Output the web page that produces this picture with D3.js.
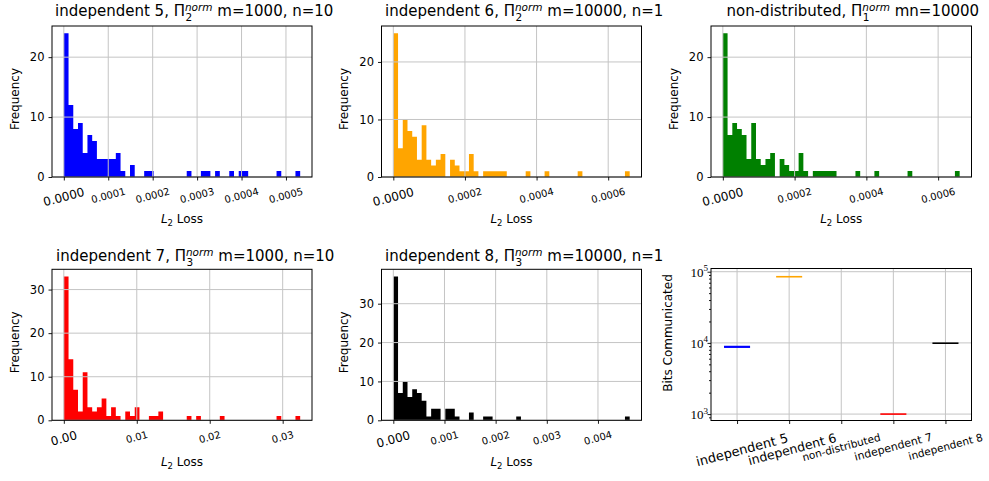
<!DOCTYPE html>
<html>
<head>
<meta charset="utf-8">
<script src="https://cdn.jsdelivr.net/npm/d3@7"></script>
<style>
  body { margin: 0; background: #fff; }
  svg { font-family: "DejaVu Sans", sans-serif; }
</style>
</head>
<body>
<svg id="fig" width="989" height="481"></svg>
<script>
// histogram counts, 50 equal bins from 0 to the max loss of each run
const binCount = 50;
const countsInd5 = [24,12,8,9,4,7,6,3,3,3, 3,4,1,0,2,0,0,1,1,0, 0,0,0,0,0,0,1,0,0,1, 1,0,1,0,0,1,0,1,1,0, 0,0,0,0,0,1,0,0,0,1];
const countsInd6 = [25,5,10,8,7,3,9,3,2,3, 4,0,3,2,1,1,4,1,0,1, 1,1,1,1,0,0,0,0,1,0, 0,0,1,0,0,0,0,0,0,1, 0,0,0,0,0,0,0,0,0,1];
const countsNonDist = [24,7,9,8,7,3,9,3,2,3, 4,0,3,2,1,1,4,1,0,1, 1,1,1,1,0,0,0,0,1,0, 0,0,1,0,0,0,0,0,0,1, 0,0,0,0,0,0,0,0,0,1];
const countsInd7 = [33,14,7,2,11,3,2,3,5,1, 3,1,0,2,1,3,0,0,1,1, 2,0,0,0,0,0,1,0,1,0, 0,0,0,1,0,0,0,0,0,0, 0,0,0,0,0,1,0,0,0,1];
const countsInd8 = [37,7,10,6,8,7,5,1,3,3, 0,3,3,1,0,0,2,0,0,1, 1,0,0,0,0,0,1,0,0,0, 0,0,0,0,0,0,0,0,0,0, 0,0,0,0,0,0,0,0,0,1];
const maxLoss = [0.000532, 0.00066, 0.00066, 0.0324, 0.00462];

const ticksInd5 = [0, 0.0001, 0.0002, 0.0003, 0.0004, 0.0005];
const ticksInd6 = [0, 0.0002, 0.0004, 0.0006];
const ticksInd7 = [0, 0.01, 0.02, 0.03];
const ticksInd8 = [0, 0.001, 0.002, 0.003, 0.004];
const freqTicksTop = [0, 10, 20];
const freqTicksBottom = [0, 10, 20, 30];

// bits communicated panel
const methods = ["independent 5", "independent 6", "non-distributed", "independent 7", "independent 8"];
const bitsCommunicated = [8800, 85000, null, 1000, 9900];
const methodColors = ["#0000ff", "#ffa500", "#008000", "#ff0000", "#000000"];
const methodLabelSizes = [13, 12.5, 10.5, 11, 10.5];
const bitsTicks = [1e3, 1e4, 1e5];

const svg = d3.select("#fig");

const panels = [
  { counts: countsInd5, max: maxLoss[0], color: methodColors[0], ticks: ticksInd5, fmt: ".4f", yTicks: freqTicksTop,
    box: [52, 26, 260, 151], title: { pre: "independent 5, Π", sup: "norm", sub: "2", post: " m=1000, n=10", x: 55, y: 16 } },
  { counts: countsInd6, max: maxLoss[1], color: methodColors[1], ticks: ticksInd6, fmt: ".4f", yTicks: freqTicksTop,
    box: [381.5, 26, 260, 151], title: { pre: "independent 6, Π", sup: "norm", sub: "2", post: " m=10000, n=1", x: 385, y: 16 } },
  { counts: countsNonDist, max: maxLoss[2], color: methodColors[2], ticks: ticksInd6, fmt: ".4f", yTicks: freqTicksTop,
    box: [711, 26, 260.5, 151], title: { pre: "non-distributed, Π", sup: "norm", sub: "1", post: " mn=10000", x: 726.5, y: 16 } },
  { counts: countsInd7, max: maxLoss[3], color: methodColors[3], ticks: ticksInd7, fmt: ".2f", yTicks: freqTicksBottom,
    box: [52, 269.3, 260, 151], title: { pre: "independent 7, Π", sup: "norm", sub: "3", post: " m=1000, n=10", x: 56, y: 260.5 } },
  { counts: countsInd8, max: maxLoss[4], color: methodColors[4], ticks: ticksInd8, fmt: ".3f", yTicks: freqTicksBottom,
    box: [381.5, 269.3, 260, 151], title: { pre: "independent 8, Π", sup: "norm", sub: "3", post: " m=10000, n=1", x: 385, y: 260.5 } }
];

// Π with sub and superscript stacked, all in one text element
function drawTitle(t) {
  const txt = svg.append("text").attr("x", t.x).attr("y", t.y).attr("font-size", 15);
  txt.append("tspan").text(t.pre);
  txt.append("tspan").attr("dy", -5).attr("font-size", 10.5).attr("font-style", "italic").text(t.sup);
  const node = txt.node();
  const sx = node.getStartPositionOfChar(t.pre.length).x;
  const ex = node.getEndPositionOfChar(t.pre.length + t.sup.length - 1).x;
  txt.append("tspan").attr("x", sx + 0.5).attr("dy", 10).attr("font-size", 10.5).text(t.sub);
  txt.append("tspan").attr("x", ex).attr("dy", -5).text(t.post);
}

// tick label rotated by deg, its box centered on cx with top at `top`
function rotLabel(g, cx, top, str, size, deg) {
  const t = g.append("text").attr("font-size", size)
    .attr("text-anchor", "middle").attr("dominant-baseline", "central").text(str);
  const w = t.node().getComputedTextLength();
  const a = deg * Math.PI / 180;
  const half = (w * Math.sin(a) + size * 0.8 * Math.cos(a)) / 2;
  t.attr("transform", `translate(${cx},${top + half}) rotate(${-deg})`);
}

function yLabel(x, y, str) {
  svg.append("text").attr("font-size", 12).attr("text-anchor", "middle")
    .attr("transform", `translate(${x},${y}) rotate(-90)`).text(str);
}

function styleAxis(sel) {
  sel.select(".domain").remove();
  sel.selectAll(".tick line").attr("stroke", "#000").attr("stroke-width", 0.9);
}

panels.forEach(p => {
  const [left, top, w, h] = p.box;
  const g = svg.append("g").attr("transform", `translate(${left},${top})`);
  const R = p.max;
  const x = d3.scaleLinear().domain([-0.05 * R, 1.05 * R]).range([0, w]);
  const y = d3.scaleLinear().domain([0, d3.max(p.counts) * 1.05]).range([h, 0]);
  const bw = R / binCount;
  // step outline of the histogram, one closed shape so bars touch without seams
  const steps = p.counts.map((c, i) => ({ x: i * bw, c }));
  steps.push({ x: R, c: p.counts[p.counts.length - 1] });

  const area = d3.area().curve(d3.curveStepAfter)
    .x(d => x(d.x)).y0(y(0)).y1(d => y(d.c));
  g.append("path").datum(steps).attr("d", area).attr("fill", p.color);

  // grid on top of bars, like matplotlib
  g.append("g").selectAll("line").data(p.ticks).join("line")
    .attr("x1", d => x(d)).attr("x2", d => x(d)).attr("y1", 0).attr("y2", h)
    .attr("stroke", "#c4c4c4").attr("stroke-width", 1);
  g.append("g").selectAll("line").data(p.yTicks).join("line")
    .attr("x1", 0).attr("x2", w).attr("y1", d => y(d)).attr("y2", d => y(d))
    .attr("stroke", "#c4c4c4").attr("stroke-width", 1);

  g.append("rect").attr("width", w).attr("height", h)
    .attr("fill", "none").attr("stroke", "#000").attr("stroke-width", 1);

  g.append("g").attr("transform", `translate(0,${h})`)
    .call(d3.axisBottom(x).tickValues(p.ticks).tickSize(3.5).tickFormat(""))
    .call(styleAxis);
  g.append("g")
    .call(d3.axisLeft(y).tickValues(p.yTicks).tickSize(3.5).tickPadding(4))
    .call(styleAxis)
    .call(s => s.selectAll(".tick text").attr("font-size", 11.5).attr("fill", "#000")
      .attr("font-family", "DejaVu Sans"));

  const fmt = d3.format(p.fmt);
  p.ticks.forEach((t, i) => rotLabel(g, x(t), h + 10, fmt(t), i === 0 ? 12 : 10, 15));

  const xl = g.append("text").attr("x", w / 2).attr("y", h + 46).attr("font-size", 12).attr("text-anchor", "middle");
  xl.append("tspan").attr("font-style", "italic").text("L");
  xl.append("tspan").attr("dy", 3).attr("font-size", 8.5).text("2");
  xl.append("tspan").attr("dy", -3).text(" Loss");

  yLabel(left - 33.5, top + h / 2 - 2.5, "Frequency");
  drawTitle(p.title);
});

// bits communicated, log scale
{
  const left = 711, top = 268.5, w = 260.5, h = 152;
  const g = svg.append("g").attr("transform", `translate(${left},${top})`);
  const x = d3.scaleLinear().domain([0.5, methods.length + 0.5]).range([0, w]);
  const y = d3.scaleLog().domain([Math.pow(10, 2.91), Math.pow(10, 5.045)]).range([h, 0]);
  const pos = methods.map((m, i) => i + 1);

  g.append("g").selectAll("line").data(pos).join("line")
    .attr("x1", d => x(d)).attr("x2", d => x(d)).attr("y1", 0).attr("y2", h)
    .attr("stroke", "#c4c4c4").attr("stroke-width", 1);
  g.append("g").selectAll("line").data(bitsTicks).join("line")
    .attr("x1", 0).attr("x2", w).attr("y1", d => y(d)).attr("y2", d => y(d))
    .attr("stroke", "#c4c4c4").attr("stroke-width", 1);

  const boxes = methods.map((m, i) => ({ p: i + 1, v: bitsCommunicated[i], c: methodColors[i] }))
    .filter(d => d.v !== null);
  g.selectAll("line.med").data(boxes).join("line")
    .attr("class", "med")
    .attr("x1", d => x(d.p - 0.25)).attr("x2", d => x(d.p + 0.25))
    .attr("y1", d => y(d.v)).attr("y2", d => y(d.v))
    .attr("stroke", d => d.c).attr("stroke-width", d => d.p === 1 ? 2.2 : 1.6);

  g.append("rect").attr("width", w).attr("height", h)
    .attr("fill", "none").attr("stroke", "#000").attr("stroke-width", 1);

  g.append("g").attr("transform", `translate(0,${h})`)
    .call(d3.axisBottom(x).tickValues(pos).tickSize(3.5).tickFormat(""))
    .call(styleAxis);

  const minor = [];
  [100, 1000, 10000].forEach(dec => { for (let k = 2; k <= 9; k++) minor.push(k * dec); });
  const [lo, hi] = y.domain();
  g.append("g")
    .call(d3.axisLeft(y).tickValues(minor.filter(v => v >= lo && v <= hi)).tickSize(2).tickFormat(""))
    .call(styleAxis);
  g.append("g")
    .call(d3.axisLeft(y).tickValues(bitsTicks).tickSize(3.5).tickFormat(""))
    .call(styleAxis);

  bitsTicks.forEach(v => {
    const t = g.append("text").attr("x", -3).attr("y", y(v) + 5)
      .attr("text-anchor", "end").attr("font-family", "Liberation Serif, serif").attr("font-size", 13);
    t.append("tspan").text("10");
    t.append("tspan").attr("dy", -5.5).attr("font-size", 9).text(Math.round(Math.log10(v)));
  });

  methods.forEach((m, i) => rotLabel(g, x(i + 1) + (i === 0 ? 5 : i === 1 ? 3 : 0), h + 12, m, methodLabelSizes[i], 15));

  yLabel(671.5, 333, "Bits Communicated");
}
</script>
</body>
</html>
